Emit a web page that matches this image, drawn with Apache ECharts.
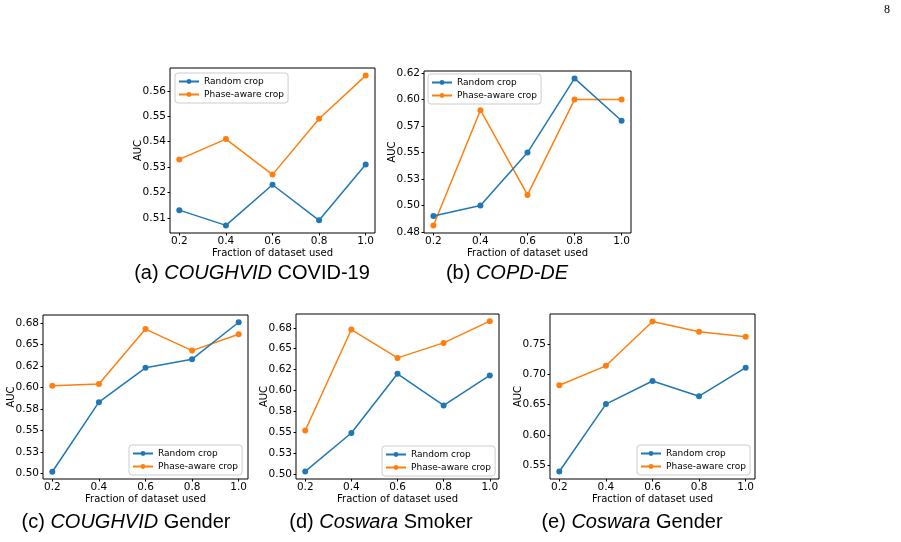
<!DOCTYPE html>
<html>
<head>
<meta charset="utf-8">
<script src="https://cdn.jsdelivr.net/npm/echarts@6/dist/echarts.min.js"></script>
<style>
  html, body { margin: 0; padding: 0; background: #fff; }
  #main { width: 901px; height: 542px; }
</style>
</head>
<body>
<div id="main"></div>
<script>
// fraction of dataset used (x axis of every panel)
const fractions = [0.2, 0.4, 0.6, 0.8, 1.0];
const xTicks = [0.2, 0.4, 0.6, 0.8, 1.0];

// AUC values
const coughvidCovidRandom = [0.513, 0.507, 0.523, 0.509, 0.531];
const coughvidCovidPhase  = [0.533, 0.541, 0.527, 0.549, 0.566];
const copdRandom          = [0.490, 0.500, 0.550, 0.620, 0.580];
const copdPhase           = [0.481, 0.590, 0.510, 0.600, 0.600];
const coughvidGenderRandom = [0.502, 0.583, 0.623, 0.633, 0.676];
const coughvidGenderPhase  = [0.602, 0.604, 0.668, 0.643, 0.662];
const coswaraSmokerRandom = [0.503, 0.549, 0.620, 0.582, 0.618];
const coswaraSmokerPhase  = [0.552, 0.673, 0.639, 0.657, 0.683];
const coswaraGenderRandom = [0.540, 0.651, 0.689, 0.664, 0.711];
const coswaraGenderPhase  = [0.682, 0.714, 0.787, 0.770, 0.762];

// y tick positions and the (rounded) labels printed on them
const yTicksA = [0.51, 0.52, 0.53, 0.54, 0.55, 0.56];
const yLabelsA = ['0.51', '0.52', '0.53', '0.54', '0.55', '0.56'];
const yTicksB = [0.475, 0.5, 0.525, 0.55, 0.575, 0.6, 0.625];
const yLabelsB = ['0.48', '0.50', '0.53', '0.55', '0.57', '0.60', '0.62'];
const yTicksC = [0.5, 0.525, 0.55, 0.575, 0.6, 0.625, 0.65, 0.675];
const yLabelsC = ['0.50', '0.53', '0.55', '0.58', '0.60', '0.62', '0.65', '0.68'];
const yTicksD = [0.5, 0.525, 0.55, 0.575, 0.6, 0.625, 0.65, 0.675];
const yLabelsD = ['0.50', '0.53', '0.55', '0.58', '0.60', '0.62', '0.65', '0.68'];
const yTicksE = [0.55, 0.6, 0.65, 0.7, 0.75];
const yLabelsE = ['0.55', '0.60', '0.65', '0.70', '0.75'];

const seriesNames = ['Random crop', 'Phase-aware crop'];
const colors = ['#1f77b4', '#ff7f0e'];

const FONT = 'DejaVu Sans';

// layout of each panel
const panels = [
  { grid: [170, 68, 205, 165], y: [0.504, 0.569], ticks: yTicksA, labels: yLabelsA,
    data: [coughvidCovidRandom, coughvidCovidPhase], legend: [175, 73],
    caption: [252, 273], tag: '(a) ', it: 'COUGHVID', rest: ' COVID-19' },
  { grid: [424, 71, 207, 162], y: [0.474, 0.627], ticks: yTicksB, labels: yLabelsB,
    data: [copdRandom, copdPhase], legend: [428, 74],
    caption: [507, 273], tag: '(b) ', it: 'COPD-DE', rest: '' },
  { grid: [43, 315, 205, 164], y: [0.4936, 0.6844], ticks: yTicksC, labels: yLabelsC,
    data: [coughvidGenderRandom, coughvidGenderPhase], legend: [129, 445],
    caption: [126, 522], tag: '(c) ', it: 'COUGHVID', rest: ' Gender' },
  { grid: [296, 314, 203, 165], y: [0.4939, 0.6916], ticks: yTicksD, labels: yLabelsD,
    data: [coswaraSmokerRandom, coswaraSmokerPhase], legend: [382, 446],
    caption: [381, 522], tag: '(d) ', it: 'Coswara', rest: ' Smoker' },
  { grid: [550, 314, 205, 165], y: [0.5277, 0.7993], ticks: yTicksE, labels: yLabelsE,
    data: [coswaraGenderRandom, coswaraGenderPhase], legend: [637, 445],
    caption: [632, 522], tag: '(e) ', it: 'Coswara', rest: ' Gender' }
];

const grids = [], xAxes = [], yAxes = [], series = [], legends = [], graphics = [];

panels.forEach((p, i) => {
  grids.push({
    left: p.grid[0], top: p.grid[1], width: p.grid[2], height: p.grid[3],
    show: true, borderColor: '#000', borderWidth: 1, backgroundColor: 'transparent',
    containLabel: false, outerBoundsMode: 'none'
  });
  xAxes.push({
    type: 'value', gridIndex: i, min: 0.16, max: 1.04,
    name: 'Fraction of dataset used', nameLocation: 'middle', nameGap: 15,
    nameMoveOverlap: false,
    nameTextStyle: { fontFamily: FONT, fontSize: 10, color: '#000' },
    axisLine: { show: false },
    axisTick: { show: true, customValues: xTicks, length: 2.5, lineStyle: { color: '#000' } },
    axisLabel: {
      customValues: xTicks, margin: 3, fontFamily: FONT, fontSize: 10.5, color: '#000',
      formatter: v => v.toFixed(1)
    },
    splitLine: { show: false }
  });
  yAxes.push({
    type: 'value', gridIndex: i, min: p.y[0], max: p.y[1],
    name: 'AUC', nameLocation: 'middle', nameGap: 27,
    nameMoveOverlap: false,
    nameTextStyle: { fontFamily: FONT, fontSize: 10, color: '#000' },
    axisLine: { show: false },
    axisTick: { show: true, customValues: p.ticks, length: 2.5, lineStyle: { color: '#000' } },
    axisLabel: {
      customValues: p.ticks, margin: 4, fontFamily: FONT, fontSize: 10.5, color: '#000',
      formatter: v => {
        const k = p.ticks.findIndex(t => Math.abs(t - v) < 1e-6);
        return k >= 0 ? p.labels[k] : '';
      }
    },
    splitLine: { show: false }
  });
  p.data.forEach((vals, s) => {
    series.push({
      name: seriesNames[s], type: 'line', xAxisIndex: i, yAxisIndex: i,
      data: fractions.map((x, j) => [x, vals[j]]),
      symbol: 'circle', symbolSize: 6, showSymbol: true,
      itemStyle: { color: colors[s] },
      lineStyle: { color: colors[s], width: 1.5 },
      emphasis: { disabled: true },
      animation: false, z: s === 0 ? 3 : 2
    });
  });
  legends.push({
    data: seriesNames, orient: 'vertical',
    left: p.legend[0], top: p.legend[1],
    itemWidth: 20, itemHeight: 6, itemGap: 2,
    padding: [3, 4, 3, 3],
    backgroundColor: 'rgba(255,255,255,0.8)',
    borderColor: '#cccccc', borderWidth: 1, borderRadius: 3,
    textStyle: { fontFamily: FONT, fontSize: 9, color: '#000', lineHeight: 11 },
    selectedMode: false
  });
  graphics.push({
    type: 'text', x: p.caption[0], y: p.caption[1],
    style: {
      text: '{n|' + p.tag + '}{i|' + p.it + '}{n|' + p.rest + '}',
      rich: {
        n: { fontFamily: 'Liberation Sans', fontSize: 20, color: '#000' },
        i: { fontFamily: 'Liberation Sans', fontSize: 20, fontStyle: 'italic', color: '#000' }
      },
      align: 'center', verticalAlign: 'middle'
    }
  });
});

// page number in the top right corner
graphics.push({
  type: 'text', x: 887, y: 10,
  style: { text: '8', fontFamily: 'Liberation Serif', fontSize: 12, fill: '#000',
    align: 'center', verticalAlign: 'middle' }
});

const chart = echarts.init(document.getElementById('main'), null, { renderer: 'canvas' });
chart.setOption({
  animation: false,
  backgroundColor: '#fff',
  grid: grids,
  xAxis: xAxes,
  yAxis: yAxes,
  legend: legends,
  series: series,
  graphic: graphics
});
</script>
</body>
</html>
